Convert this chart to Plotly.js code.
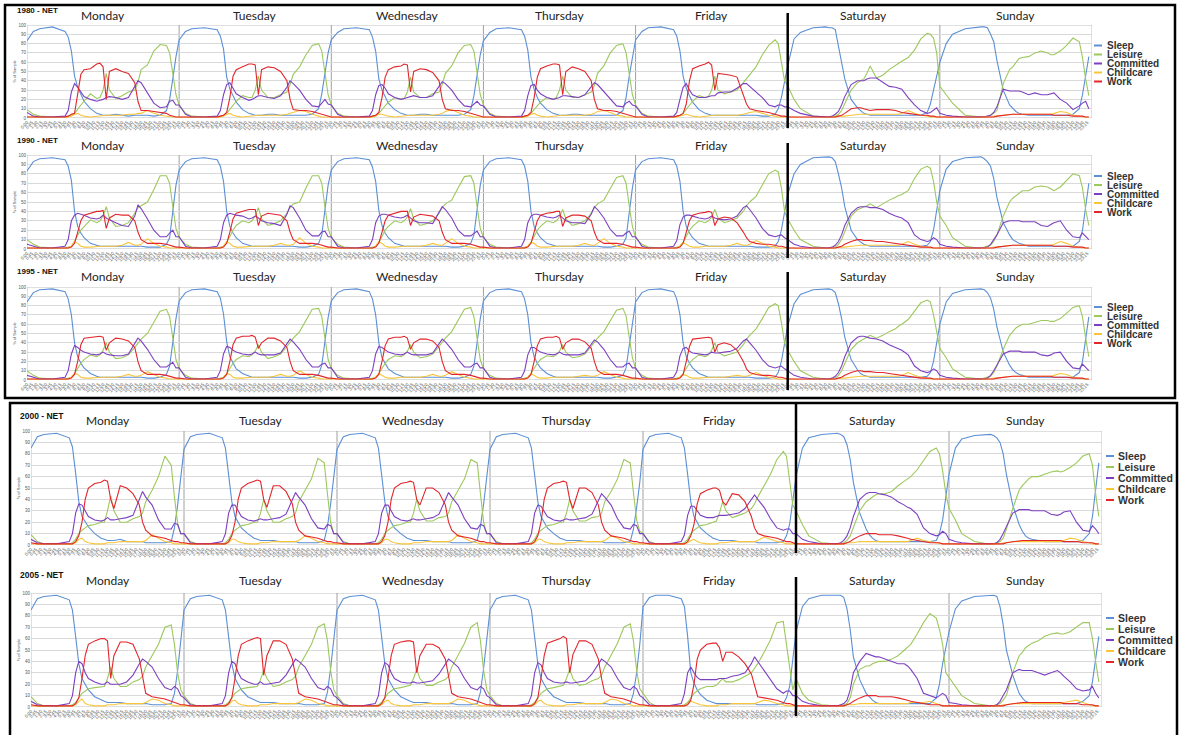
<!DOCTYPE html>
<html><head><meta charset="utf-8">
<script src="https://cdn.plot.ly/plotly-3.0.1.min.js"></script>
<style>html,body{margin:0;padding:0;background:#fff;overflow:hidden}#chart{width:1181px;height:735px}</style>
</head><body><div id="chart"></div>
<script>
const W = 1181, H = 735;
const TIMES = [0,1,2,4,6, 6.5,7,7.5,8,8.5, 9,10,11,11.5,12, 12.5,13,14,15,16, 17,17.5,18,19,20, 21,22,22.5,23,23.5];
const DAYS = ["Monday","Tuesday","Wednesday","Thursday","Friday","Saturday","Sunday"];
const DAY_TICKS = ["0:00","0:45","1:30","2:15","3:00","3:45","4:30","5:15","6:00","6:45","7:30","8:15","9:00","9:45","10:30","11:15","12:00","12:45","13:30","14:15","15:00","15:45","16:30","17:15","18:00","18:45","19:30","20:15","21:00","21:45","22:30","23:15"];
const SERIES = ["Sleep","Leisure","Committed","Childcare","Work"];
const COLORS = ["#5b8fd6","#9dc85c","#7d3fc0","#f8c53a","#e2262b"];
const PANEL_TITLES = ["1980 - NET","1990 - NET","1995 - NET","2000 - NET","2005 - NET"];

// ---------- 1980 ----------
const sleep1980 = [
[83,93,96,98,93, 87,72,45,33,25, 18,10,5,4,3, 3,3,4,3,2, 3,3,3,3,2, 3,8,20,42,66],
[84,93,96,97,95, 88,74,44,31,23, 17,9,5,4,3, 3,3,4,4,3, 3,3,3,3,3, 4,10,26,50,70],
[84,92,96,97,95, 87,72,42,30,22, 16,9,5,4,3, 3,3,4,4,3, 3,3,3,3,3, 4,9,24,48,68],
[83,92,96,97,95, 88,73,44,31,22, 16,9,5,4,3, 3,3,4,4,3, 3,3,3,3,3, 3,8,22,45,66],
[84,93,97,98,95, 88,72,45,32,24, 17,9,5,4,3, 3,3,3,3,3, 3,3,3,3,2, 2,4,10,22,40],
[56,85,92,97,98, 97,97,95,78,60, 42,20,11,8,5, 4,3,3,3,3, 3,3,3,3,3, 3,6,15,30,45],
[60,80,90,96,98, 98,98,97,90,82, 62,30,14,10,7, 5,4,3,3,3, 3,3,3,3,3, 4,10,25,48,66]];
const leisure1980 = [
[9,4,2,1,1, 2,3,5,10,14, 18,26,21,22,30, 48,30,21,24,28, 30,38,52,57,72, 79,78,70,48,25],
[14,5,2,1,1, 2,3,5,9,14, 18,24,22,22,30, 45,30,22,22,25, 28,36,47,55,68, 78,80,72,50,25],
[14,5,2,1,1, 2,3,5,9,13, 17,22,20,21,28, 44,28,22,22,26, 28,36,48,56,70, 78,79,72,50,25],
[14,5,2,1,1, 2,3,5,9,13, 17,22,20,22,30, 45,30,22,22,25, 28,35,48,56,70, 78,80,70,48,25],
[14,5,2,1,1, 2,3,5,9,14, 18,24,22,23,30, 45,30,26,28,30, 38,42,46,55,68, 78,84,80,60,40],
[35,20,10,2,1, 1,1,2,4,8, 15,30,38,40,42, 48,56,43,46,52, 57,59,61,65,73, 85,91,90,86,70],
[34,25,16,3,1, 1,1,2,3,5, 8,37,52,55,60, 64,65,66,70,72, 70,68,68,72,78, 86,82,65,42,24]];
const committed1980 = [
[6,2,1,1,2, 8,28,37,33,28, 23,20,18,19,20, 22,23,22,20,22, 35,40,38,27,16, 11,12,18,19,14],
[14,4,1,1,2, 8,25,36,38,32, 26,22,19,20,22, 24,24,22,21,24, 33,40,37,30,20, 13,12,16,20,15],
[14,4,1,1,2, 8,25,35,36,32, 26,22,20,21,22, 23,24,22,22,24, 35,39,37,30,20, 13,12,15,18,14],
[13,4,1,1,2, 8,24,35,36,30, 26,22,20,21,22, 24,24,23,22,25, 34,38,36,28,20, 13,12,16,18,14],
[13,4,1,1,2, 6,20,33,37,30, 25,22,22,23,24, 24,27,28,28,32, 37,37,34,27,22, 14,12,14,14,12],
[12,8,5,2,1, 1,2,4,7,14, 23,36,40,40,40, 42,43,43,38,34, 33,32,31,22,14, 8,5,6,9,11],
[5,3,2,1,1, 1,1,2,3,6, 12,31,29,29,29, 29,28,25,27,25, 25,26,27,20,16, 9,13,16,18,10]];
const childcare1980 = [
[1,1,0,0,0, 1,2,4,5,3, 2,1,2,2,3, 3,3,3,3,4, 4,5,5,8,5, 3,2,1,1,1],
[1,1,0,0,0, 1,2,4,5,3, 2,1,2,2,3, 3,3,3,3,3, 4,5,6,8,7, 4,2,1,1,1],
[1,1,0,0,0, 1,2,4,4,3, 2,1,2,2,3, 3,3,3,3,3, 4,5,7,9,6, 3,2,1,1,1],
[1,1,0,0,0, 1,2,4,5,3, 2,1,2,2,3, 3,3,3,3,3, 4,5,7,8,6, 3,2,1,1,1],
[1,1,0,0,0, 1,2,3,4,3, 2,1,2,2,3, 3,3,3,3,3, 4,5,6,7,5, 3,2,1,1,1],
[1,1,0,0,0, 0,1,1,2,2, 2,3,4,4,4, 4,4,4,4,4, 4,4,5,8,5, 3,2,1,1,1],
[1,1,0,0,0, 0,1,1,1,2, 2,3,4,4,4, 4,4,4,4,4, 4,4,5,7,6, 3,2,1,1,1]];
const work1980 = [
[1,1,1,1,1, 2,4,5,25,47, 52,53,58,59,55, 20,50,53,50,48, 38,18,8,8,7, 6,5,3,2,1],
[1,1,1,1,1, 2,3,6,22,45, 52,55,58,58,57, 25,52,55,54,50, 40,20,9,8,8, 7,5,4,3,2],
[1,1,1,1,1, 2,3,6,22,44, 52,55,56,58,57, 28,50,53,52,49, 40,20,10,8,8, 7,5,4,3,2],
[1,1,1,1,1, 2,3,6,22,44, 53,56,58,58,57, 25,50,55,53,50, 40,20,10,8,8, 7,5,4,3,2],
[1,1,1,1,1, 2,3,5,15,40, 53,56,58,60,57, 30,48,47,46,44, 25,15,10,8,7, 6,4,3,2,2],
[1,1,1,1,1, 1,1,1,2,3, 5,10,11,11,10, 9,8,9,9,9, 8,7,6,5,4, 3,3,2,2,1],
[1,1,1,1,1, 1,1,1,1,1, 2,3,4,4,4, 4,4,4,4,4, 4,4,3,3,3, 2,2,2,1,1]];

// ---------- 1990 ----------
const sleep1990 = [
[83,93,96,97,95, 88,73,40,24,17, 12,6,4,3,3, 3,3,3,3,3, 3,3,3,2,2, 2,5,12,40,68],
[84,93,96,97,95, 88,72,40,24,17, 12,6,4,3,3, 3,3,3,3,3, 3,3,3,2,2, 3,6,15,42,68],
[84,93,96,97,95, 87,72,41,25,17, 12,6,4,3,3, 3,3,3,3,3, 3,3,3,2,2, 3,6,15,42,68],
[84,93,96,97,95, 88,72,40,24,17, 12,6,4,3,3, 3,3,3,3,3, 3,3,3,2,2, 3,5,12,38,65],
[84,93,96,97,95, 88,72,40,24,17, 12,6,4,3,3, 3,3,3,3,3, 3,3,3,2,2, 2,3,8,20,40],
[58,80,90,97,98, 98,97,93,80,65, 45,20,10,7,5, 4,3,3,3,3, 3,3,3,3,3, 3,4,8,20,40],
[62,85,93,97,98, 98,96,93,88,75, 55,28,15,10,8, 6,5,3,3,3, 3,3,3,3,3, 3,8,20,45,70]];
const leisure1990 = [
[10,5,2,1,1, 2,3,8,15,20, 24,31,28,30,35, 45,33,24,25,28, 38,44,46,50,63, 78,78,70,45,22],
[12,5,2,1,1, 2,3,7,14,20, 25,30,28,30,35, 44,32,25,27,30, 38,44,48,50,65, 78,78,70,45,22],
[12,5,2,1,1, 2,3,7,14,20, 24,30,28,30,34, 43,32,25,27,30, 38,44,48,52,65, 77,78,70,45,22],
[12,5,2,1,1, 2,3,7,14,20, 24,30,28,30,34, 42,32,25,27,30, 38,44,48,52,64, 76,78,70,46,24],
[12,5,2,1,1, 2,3,7,14,20, 24,30,28,30,34, 42,33,28,30,33, 40,46,50,56,68, 80,84,82,65,40],
[32,20,10,3,1, 1,1,2,5,10, 18,35,42,43,45, 46,48,44,48,52, 55,57,58,62,75, 85,88,86,72,50],
[35,25,12,3,1, 1,2,3,4,8, 15,35,50,54,57, 60,62,62,66,67, 66,64,62,66,73, 80,78,65,42,25]];
const committed1990 = [
[5,3,1,1,3, 10,30,36,38,37, 36,33,32,33,36, 33,31,28,25,24, 35,47,43,32,20, 13,13,17,20,13],
[13,3,1,1,3, 10,28,36,38,37, 36,35,32,33,35, 33,30,28,27,25, 37,46,44,33,20, 14,14,18,19,13],
[13,3,1,1,3, 10,28,35,37,37, 36,34,33,34,36, 33,30,28,28,27, 38,45,42,33,20, 14,14,17,19,13],
[13,3,1,1,3, 10,28,35,37,37, 36,34,33,34,36, 33,30,28,28,27, 37,45,42,33,21, 14,14,17,19,13],
[13,3,1,1,3, 9,26,34,36,36, 35,33,32,33,35, 33,32,31,32,35, 44,46,42,33,22, 15,13,14,15,12],
[10,5,3,1,1, 1,2,4,8,15, 25,38,44,45,45, 45,44,44,42,38, 35,34,33,28,15, 10,8,9,12,10],
[5,3,2,1,1, 1,1,2,5,10, 15,28,30,30,30, 30,29,29,29,25, 24,26,28,30,20, 13,12,17,14,10]];
const childcare1990 = [
[1,1,0,0,0, 1,3,8,6,3, 2,2,3,3,3, 3,3,3,4,7, 4,4,5,11,6, 3,2,1,1,1],
[1,1,0,0,0, 1,3,8,6,3, 2,2,3,3,3, 3,3,3,4,6, 4,4,5,12,6, 3,2,1,1,1],
[1,1,0,0,0, 1,3,8,6,3, 2,2,3,3,3, 3,3,3,4,6, 4,4,6,11,6, 3,2,1,1,1],
[1,1,0,0,0, 1,3,7,6,3, 2,2,3,3,3, 3,3,3,4,6, 4,4,6,11,6, 3,2,1,1,1],
[1,1,0,0,0, 1,3,7,5,3, 2,2,3,3,3, 3,3,3,4,6, 4,4,5,9,6, 3,2,1,1,1],
[1,1,0,0,0, 0,1,1,2,2, 2,3,4,4,4, 4,4,4,4,4, 4,4,5,8,5, 3,2,1,1,1],
[1,1,0,0,0, 0,1,1,1,2, 2,3,4,4,4, 4,4,4,4,4, 4,4,5,8,6, 3,2,1,1,1]];
const work1990 = [
[1,1,1,1,1, 1,2,6,18,30, 36,38,40,40,41, 22,33,37,36,36, 30,18,10,6,6, 6,5,4,3,2],
[2,1,1,1,1, 1,2,6,18,32, 38,40,42,42,42, 25,35,38,37,36, 30,18,10,6,6, 6,5,4,3,2],
[2,1,1,1,1, 1,2,6,18,30, 36,38,40,40,40, 25,34,37,36,35, 30,18,10,6,6, 6,5,4,3,2],
[2,1,1,1,1, 1,2,6,18,30, 36,38,39,40,40, 24,33,36,36,35, 30,18,10,6,6, 6,5,4,3,2],
[2,1,1,1,1, 1,2,6,18,30, 36,38,39,40,39, 25,32,34,33,28, 18,12,8,6,5, 5,4,3,3,2],
[1,1,1,1,1, 1,1,1,2,3, 5,8,10,10,9, 9,9,8,8,7, 6,5,5,4,3, 2,2,2,1,1],
[1,1,1,1,1, 1,1,1,1,1, 2,3,4,4,4, 4,4,4,4,4, 4,4,3,3,3, 2,2,2,1,1]];

// ---------- 1995 ----------
const sleep1995 = [
[84,94,97,98,95, 87,70,40,25,18, 13,7,4,3,3, 3,3,3,3,3, 3,3,3,2,2, 3,6,15,40,66],
[85,94,97,98,95, 88,71,41,25,18, 12,7,4,3,3, 3,3,3,3,3, 3,3,3,2,2, 3,6,16,42,67],
[85,94,97,98,95, 87,70,40,24,18, 12,7,4,3,3, 3,3,3,3,3, 3,3,3,2,2, 3,6,15,41,66],
[85,94,97,98,95, 87,70,40,25,18, 13,7,4,3,3, 3,3,3,3,3, 3,3,3,2,2, 3,5,13,38,64],
[84,94,97,98,95, 87,70,40,25,18, 13,7,4,3,3, 3,3,3,3,3, 3,3,3,2,2, 2,3,8,20,40],
[58,82,92,97,98, 98,97,94,82,66, 46,22,11,7,5, 4,3,3,3,3, 3,3,3,3,3, 3,4,8,20,40],
[60,84,93,97,98, 98,97,94,88,76, 57,30,16,11,8, 6,5,3,3,3, 3,3,3,3,3, 3,8,20,44,68]];
const leisure1995 = [
[10,5,2,1,1, 2,3,7,13,18, 22,27,25,27,32, 40,30,23,24,27, 35,40,44,50,62, 74,76,68,45,22],
[12,5,2,1,1, 2,3,7,13,18, 22,26,25,27,31, 38,30,23,25,28, 36,41,45,52,64, 76,77,68,45,22],
[12,5,2,1,1, 2,3,7,13,18, 22,26,25,27,31, 38,30,24,25,28, 36,41,45,52,64, 76,78,68,45,22],
[12,5,2,1,1, 2,3,7,13,18, 22,26,25,27,31, 38,30,24,25,28, 36,41,45,52,63, 75,77,69,46,24],
[12,5,2,1,1, 2,3,7,13,18, 22,27,25,27,32, 40,30,26,28,30, 38,44,48,55,66, 78,82,80,62,40],
[32,20,10,3,1, 1,1,2,5,10, 18,33,40,42,44, 46,48,45,48,52, 55,58,60,65,74, 83,86,84,70,50],
[34,24,12,3,1, 1,2,3,4,8, 15,33,48,52,56, 58,60,60,62,64, 64,63,63,66,72, 78,80,68,45,25]];
const committed1995 = [
[5,3,1,1,3, 10,28,37,35,32, 30,28,27,28,30, 28,27,26,26,28, 40,45,42,33,22, 14,14,17,19,13],
[13,3,1,1,3, 10,28,36,35,32, 30,28,27,28,30, 28,27,27,27,29, 40,44,41,33,22, 14,14,17,18,13],
[13,3,1,1,3, 10,28,36,35,32, 30,28,27,28,30, 28,27,27,27,29, 40,44,41,33,22, 14,14,17,18,13],
[13,3,1,1,3, 10,27,35,35,32, 30,28,27,28,30, 28,27,27,27,29, 39,43,41,33,22, 14,14,17,18,13],
[13,3,1,1,3, 9,26,34,35,31, 29,28,27,28,30, 29,29,30,31,34, 42,44,40,32,22, 15,13,14,15,12],
[10,5,3,1,1, 1,2,4,8,15, 25,40,46,47,47, 46,45,44,42,38, 35,33,32,27,15, 10,8,9,12,10],
[5,3,2,1,1, 1,1,2,5,10, 16,28,31,31,31, 31,30,30,30,27, 26,27,29,30,20, 13,12,17,14,10]];
const childcare1995 = [
[1,1,0,0,0, 1,3,7,6,3, 2,2,3,3,3, 3,3,3,4,6, 4,4,5,9,6, 3,2,1,1,1],
[1,1,0,0,0, 1,3,7,6,3, 2,2,3,3,3, 3,3,3,4,6, 4,4,5,10,6, 3,2,1,1,1],
[1,1,0,0,0, 1,3,7,5,3, 2,2,3,3,3, 3,3,3,4,6, 4,4,5,9,6, 3,2,1,1,1],
[1,1,0,0,0, 1,3,7,5,3, 2,2,3,3,3, 3,3,3,4,5, 4,4,5,9,6, 3,2,1,1,1],
[1,1,0,0,0, 1,3,6,5,3, 2,2,3,3,3, 3,3,3,4,5, 4,4,5,8,5, 3,2,1,1,1],
[1,1,0,0,0, 0,1,1,2,2, 2,3,4,4,4, 4,4,4,4,4, 4,4,5,8,5, 3,2,1,1,1],
[1,1,0,0,0, 0,1,1,1,2, 2,3,4,4,4, 4,4,4,4,4, 4,4,5,7,6, 3,2,1,1,1]];
const work1995 = [
[1,1,1,1,1, 1,2,6,20,38, 45,46,47,47,46, 32,40,45,44,42, 35,20,10,6,6, 6,5,4,3,2],
[2,1,1,1,1, 1,2,6,20,38, 45,47,47,48,46, 34,40,45,45,42, 35,20,10,6,6, 6,5,4,3,2],
[2,1,1,1,1, 1,2,6,20,37, 44,46,46,47,45, 33,40,44,44,42, 35,20,10,6,6, 6,5,4,3,2],
[2,1,1,1,1, 1,2,6,20,37, 44,46,46,47,45, 33,40,44,44,41, 34,20,10,6,6, 6,5,4,3,2],
[2,1,1,1,1, 1,2,6,20,36, 44,45,46,46,45, 30,38,40,38,32, 20,12,8,6,5, 5,4,3,3,2],
[1,1,1,1,1, 1,1,1,2,3, 5,8,10,10,9, 9,9,8,8,7, 6,5,5,4,3, 2,2,2,1,1],
[1,1,1,1,1, 1,1,1,1,1, 2,3,4,4,4, 4,4,4,4,4, 4,4,3,3,3, 2,2,2,1,1]];

// ---------- 2000 ----------
const sleep2000 = [
[85,95,97,98,94, 86,63,38,25,20, 16,10,6,5,4, 4,4,5,3,3, 3,3,2,2,2, 2,3,15,35,58],
[84,95,97,98,94, 85,62,38,25,20, 15,10,6,5,4, 4,4,4,3,3, 3,3,2,2,2, 2,4,16,36,58],
[84,95,97,98,94, 85,62,38,25,20, 15,10,6,5,4, 4,4,4,3,3, 3,3,2,2,2, 2,4,16,36,58],
[84,95,97,98,94, 85,62,38,25,20, 15,10,6,5,4, 4,4,4,3,3, 3,3,2,2,2, 2,3,14,33,55],
[84,95,97,98,94, 85,62,38,25,20, 15,10,6,5,4, 4,4,4,3,3, 3,3,2,2,2, 2,3,8,18,38],
[60,85,94,97,98, 98,97,95,88,75, 55,28,14,9,6, 4,3,3,3,3, 3,3,3,3,3, 3,4,10,22,42],
[62,85,93,96,97, 97,96,94,90,80, 62,35,18,12,8, 6,5,4,3,3, 3,3,3,3,3, 4,10,25,50,72]];
const leisure2000 = [
[9,3,1,1,1, 2,5,10,13,15, 17,18,20,20,30, 43,30,20,20,23, 25,28,38,48,60, 78,70,42,19,10],
[10,3,1,1,1, 2,5,10,13,15, 17,18,20,20,28, 40,30,20,20,23, 25,28,38,48,58, 76,72,45,20,10],
[10,3,1,1,1, 2,5,10,13,15, 17,18,20,20,28, 40,30,21,21,24, 25,28,38,48,58, 75,72,45,20,10],
[10,3,1,1,1, 2,5,10,13,15, 17,18,20,20,28, 40,30,21,21,24, 25,28,38,47,58, 75,72,46,22,12],
[10,3,1,1,1, 2,5,10,13,15, 17,18,20,21,28, 38,30,24,26,28, 32,36,42,52,62, 75,82,78,55,35],
[30,18,8,2,1, 1,1,2,4,8, 16,30,38,40,42, 44,45,45,47,52, 56,58,60,66,74, 82,85,80,65,45],
[32,22,10,3,1, 1,1,2,3,6, 14,32,48,52,55, 58,60,60,62,64, 65,64,65,68,72, 78,80,70,45,25]];
const committed2000 = [
[5,2,1,1,3, 10,28,36,35,30, 25,22,21,22,24, 22,22,23,24,26, 40,47,42,35,22, 14,14,19,18,10],
[10,2,1,1,3, 10,28,35,35,30, 25,22,21,22,23, 22,22,23,24,27, 40,46,42,35,23, 15,14,18,17,10],
[10,2,1,1,3, 10,28,35,35,30, 25,22,21,22,23, 22,22,23,24,27, 40,46,42,35,23, 15,14,18,17,10],
[10,2,1,1,3, 10,28,35,34,30, 25,22,21,22,23, 22,22,23,24,27, 39,45,42,35,23, 15,14,18,17,10],
[10,2,1,1,3, 9,26,34,34,30, 26,24,24,25,26, 26,26,27,28,32, 40,44,40,33,23, 15,13,14,14,10],
[10,5,3,1,1, 1,2,4,8,15, 25,40,45,46,46, 46,45,44,42,38, 35,33,32,27,15, 10,8,9,12,10],
[5,3,2,1,1, 1,1,2,5,10, 16,28,31,31,31, 31,30,30,30,27, 26,27,29,30,20, 13,12,17,14,10]];
const childcare2000 = [
[1,1,0,0,0, 1,2,5,6,3, 2,1,1,1,2, 2,2,3,3,3, 3,3,4,9,6, 3,2,1,1,1],
[1,1,0,0,0, 1,2,5,5,3, 2,1,1,1,2, 2,2,3,3,3, 3,3,4,8,6, 3,2,1,1,1],
[1,1,0,0,0, 1,2,5,5,3, 2,1,1,1,2, 2,2,3,3,3, 3,3,4,9,6, 3,2,1,1,1],
[1,1,0,0,0, 1,2,5,5,3, 2,1,1,1,2, 2,2,3,3,3, 3,3,4,8,6, 3,2,1,1,1],
[1,1,0,0,0, 1,2,4,5,3, 2,1,1,1,2, 2,2,3,3,3, 3,3,4,7,5, 3,2,1,1,1],
[1,1,0,0,0, 0,1,1,2,2, 2,3,3,3,3, 3,3,3,3,3, 3,3,4,6,4, 3,2,1,1,1],
[1,1,0,0,0, 0,1,1,1,2, 2,3,3,3,3, 3,3,3,3,3, 3,3,4,6,5, 3,2,1,1,1]];
const work2000 = [
[2,1,1,1,1, 1,3,8,20,40, 50,54,55,57,56, 40,32,52,50,45, 35,20,13,8,7, 6,4,3,3,2],
[2,1,1,1,1, 1,3,8,20,40, 50,54,56,57,56, 40,33,52,52,47, 36,20,13,8,7, 6,4,3,3,2],
[2,1,1,1,1, 1,3,8,20,40, 50,54,55,56,55, 40,35,50,50,46, 35,20,13,8,7, 6,4,3,3,2],
[2,1,1,1,1, 1,3,8,20,40, 50,54,55,56,55, 40,32,50,50,46, 35,20,13,8,7, 6,4,3,3,2],
[2,1,1,1,1, 1,3,8,18,36, 45,48,50,50,48, 38,35,45,44,38, 25,15,10,8,7, 6,4,3,3,2],
[1,1,1,1,1, 1,1,1,2,3, 5,8,10,10,10, 10,9,9,9,8, 7,6,5,4,3, 2,2,2,1,1],
[1,1,1,1,1, 1,1,1,1,1, 2,3,4,4,4, 4,4,4,4,4, 4,4,3,3,3, 2,2,2,1,1]];

// ---------- 2005 ----------
const sleep2005 = [
[85,95,97,98,94, 85,62,38,25,20, 15,9,6,5,4, 4,4,4,3,3, 3,3,3,2,2, 2,3,12,32,58],
[85,95,97,98,94, 85,62,38,25,20, 15,9,6,5,4, 4,4,4,3,3, 3,3,3,2,2, 2,3,13,34,58],
[85,95,97,98,94, 85,62,38,25,20, 15,9,6,5,4, 4,4,4,3,3, 3,3,3,2,2, 2,3,13,34,58],
[85,95,97,98,94, 85,62,38,25,20, 15,9,6,5,4, 4,4,4,3,3, 3,3,3,2,2, 2,3,12,30,55],
[88,96,98,98,95, 88,62,30,21,15, 11,6,4,3,3, 3,3,3,3,3, 3,3,2,2,2, 2,3,8,18,40],
[66,88,95,98,98, 98,98,96,86,68, 44,24,12,9,6, 4,3,3,3,3, 3,3,3,3,3, 3,8,20,38,52],
[66,86,93,97,98, 98,98,97,88,72, 50,28,12,8,5, 4,3,3,3,3, 3,3,3,3,3, 5,10,22,40,62]];
const leisure2005 = [
[9,3,1,1,1, 2,4,8,12,14, 16,17,18,18,25, 35,25,18,18,22, 24,27,35,45,55, 70,72,55,30,15],
[10,3,1,1,1, 2,4,8,12,14, 16,17,18,18,24, 32,25,18,19,22, 24,27,35,45,55, 70,73,58,32,15],
[10,3,1,1,1, 2,4,8,12,14, 16,17,18,19,25, 33,25,19,19,22, 24,27,35,45,56, 70,74,58,32,15],
[10,3,1,1,1, 2,4,8,12,14, 16,17,18,19,25, 33,25,19,20,23, 25,28,35,45,56, 70,73,58,32,16],
[12,4,1,1,1, 2,4,8,12,14, 16,18,18,19,22, 25,22,22,24,27, 30,34,38,48,59, 74,75,55,35,15],
[25,12,6,2,1, 1,1,2,3,8, 20,33,36,36,38, 39,40,40,42,45, 50,52,55,64,74, 82,78,68,55,30],
[26,18,10,3,1, 1,1,2,3,6, 10,30,45,48,52, 54,56,58,62,64, 65,64,64,66,70, 74,74,60,40,22]];
const committed2005 = [
[5,2,1,1,3, 10,30,40,38,30, 25,22,20,20,22, 20,20,20,22,28, 38,42,40,35,25, 17,15,18,16,10],
[8,2,1,1,3, 10,30,40,38,30, 25,22,20,20,22, 20,20,21,22,28, 38,42,40,35,25, 17,15,18,16,10],
[8,2,1,1,3, 10,30,39,37,30, 25,22,21,21,22, 21,21,22,23,29, 38,42,40,35,25, 17,15,18,16,10],
[8,2,1,1,3, 10,30,39,37,30, 25,22,21,21,22, 21,21,22,23,29, 38,42,40,35,25, 17,15,18,16,10],
[8,2,1,1,3, 12,30,35,30,26, 24,24,24,24,25, 25,25,27,28,30, 38,44,40,33,25, 16,12,14,14,10],
[10,5,3,1,1, 1,2,3,6,15, 30,40,47,46,45, 44,44,42,40,38, 38,36,33,25,12, 10,8,10,12,10],
[4,3,2,1,1, 1,1,2,5,10, 15,30,33,32,32, 32,32,30,28,30, 32,30,27,22,16, 14,15,18,12,8]];
const childcare2005 = [
[1,1,0,0,0, 1,2,5,7,3, 2,1,1,1,2, 2,2,3,3,3, 3,3,4,7,6, 3,2,1,1,1],
[1,1,0,0,0, 1,2,5,6,3, 2,1,1,1,2, 2,2,3,3,3, 3,3,4,7,6, 3,2,1,1,1],
[1,1,0,0,0, 1,2,5,6,3, 2,1,1,1,2, 2,2,3,3,3, 3,3,4,7,6, 3,2,1,1,1],
[1,1,0,0,0, 1,2,5,6,3, 2,1,1,1,2, 2,2,3,3,3, 3,3,4,7,6, 3,2,1,1,1],
[1,1,0,0,0, 1,3,5,4,3, 2,1,1,1,2, 2,2,3,3,3, 3,3,4,6,5, 3,2,1,1,1],
[1,1,0,0,0, 0,1,1,2,2, 2,3,3,3,3, 3,3,3,3,3, 3,3,4,4,4, 5,3,2,1,1],
[1,1,0,0,0, 0,1,1,1,2, 2,3,3,3,3, 3,3,3,3,3, 3,3,4,5,6, 4,2,1,1,1]];
const work2005 = [
[2,1,1,1,1, 1,3,8,25,45, 55,58,60,60,58, 25,45,57,57,55, 42,25,12,9,8, 7,5,4,3,2],
[2,1,1,1,1, 1,3,8,25,45, 55,58,60,61,60, 28,45,58,58,55, 42,25,12,9,8, 7,5,4,3,2],
[2,1,1,1,1, 1,3,8,25,45, 55,57,58,58,57, 30,45,55,55,52, 42,25,12,9,8, 7,5,4,3,2],
[2,1,1,1,1, 1,3,8,25,45, 56,58,60,62,60, 30,46,58,58,55, 42,25,12,9,8, 7,5,4,3,2],
[2,1,1,1,1, 1,2,6,20,42, 50,55,56,56,52, 40,48,48,44,38, 29,18,9,8,7, 6,4,3,3,2],
[1,1,1,1,1, 1,1,1,2,3, 5,8,10,10,10, 10,9,9,9,8, 7,6,5,4,3, 2,2,2,1,1],
[1,1,1,1,1, 1,1,1,1,1, 2,3,4,4,4, 4,4,4,4,4, 4,4,3,3,3, 2,2,2,1,1]];

const PANEL_DATA = [
  {sleep:sleep1980, leisure:leisure1980, committed:committed1980, childcare:childcare1980, work:work1980},
  {sleep:sleep1990, leisure:leisure1990, committed:committed1990, childcare:childcare1990, work:work1990},
  {sleep:sleep1995, leisure:leisure1995, committed:committed1995, childcare:childcare1995, work:work1995},
  {sleep:sleep2000, leisure:leisure2000, committed:committed2000, childcare:childcare2000, work:work2000},
  {sleep:sleep2005, leisure:leisure2005, committed:committed2005, childcare:childcare2005, work:work2005}
];
const KEYS = ["sleep","leisure","committed","childcare","work"];

// ---------- layout geometry (pixels) ----------
const PANELS = [
  {x0:27, x1:1092, top:25,  bot:118, tx:15, ty:10.5, tsize:8,   dayY:15,  thick:[13,128],  lx:1094, ltx:1105, lys:[45.5,54.5,63.5,72.5,81.5], lsize:10},
  {x0:27, x1:1092, top:155, bot:249, tx:15, ty:141,  tsize:8,   dayY:146, thick:[143,258], lx:1094, ltx:1105, lys:[176,185,194,203,212], lsize:10},
  {x0:27, x1:1092, top:287, bot:380, tx:15, ty:272,  tsize:8,   dayY:277, thick:[272,390], lx:1094, ltx:1105, lys:[307,316,325,334,343], lsize:10},
  {x0:31, x1:1102, top:431, bot:545, tx:18, ty:415.5,tsize:8.5, dayY:420, thick:[404,553], lx:1106, ltx:1116, lys:[456,467,478,489,500], lsize:10.5},
  {x0:31, x1:1102, top:593, bot:707, tx:18, ty:575,  tsize:8.5, dayY:580, thick:[577,716], lx:1106, ltx:1116, lys:[618,629,640,651,662], lsize:10.5}
];

const px = v => v / W;
const py = v => 1 - v / H;

// sanity check
PANEL_DATA.forEach((pd, i) => KEYS.forEach(k => pd[k].forEach((arr, d) => {
  if (arr.length !== TIMES.length) throw new Error("bad length " + PANEL_TITLES[i] + " " + k + " day " + d + ": " + arr.length);
})));

const traces = [];
const layout = {
  width: W, height: H, margin: {l:0, r:0, t:0, b:0},
  paper_bgcolor: '#ffffff', plot_bgcolor: '#ffffff', showlegend: false,
  font: {family: 'Liberation Sans, Arial, sans-serif', color: '#333'},
  shapes: [], annotations: []
};

const tickvals = [], ticktext = [];
for (let d = 0; d < 7; d++) DAY_TICKS.forEach((t, k) => { tickvals.push(d * 24 + k * 0.75); ticktext.push(t); });

PANELS.forEach((P, i) => {
  const n = i === 0 ? '' : String(i + 1);
  const xr = 'x' + n, yr = 'y' + n;
  layout['xaxis' + n] = {
    domain: [px(P.x0), px(P.x1)], range: [0, 168], anchor: yr,
    showgrid: false, zeroline: false, showline: false, ticks: '',
    tickmode: 'array', tickvals: tickvals, ticktext: ticktext, tickangle: -45,
    tickfont: {size: 4.5, color: '#555'}, fixedrange: true, automargin: false
  };
  layout['yaxis' + n] = {
    domain: [py(P.bot), py(P.top)], range: [0, 100], anchor: xr,
    tickmode: 'linear', tick0: 0, dtick: 10, showgrid: true, gridcolor: '#d9d9d9', gridwidth: 1,
    zeroline: false, showline: false, ticks: '',
    tickfont: {size: 4.5, color: '#555'}, fixedrange: true, automargin: false,
    title: {text: '% of Sample', font: {size: 4, color: '#555'}, standoff: 2}
  };
  const pd = PANEL_DATA[i];
  KEYS.forEach((k, s) => {
    const xs = [], ys = [];
    pd[k].forEach((arr, d) => arr.forEach((v, t) => { xs.push(d * 24 + TIMES[t]); ys.push(v); }));
    traces.push({x: xs, y: ys, xaxis: xr, yaxis: yr, type: 'scatter', mode: 'lines',
      line: {color: COLORS[s], width: 1.1}, hoverinfo: 'skip', name: SERIES[s]});
  });
  layout.shapes.push({type: 'rect', xref: xr, yref: yr, x0: 0, x1: 168, y0: 0, y1: 100,
    line: {color: '#bfbfbf', width: 1}, layer: 'below'});
  [24, 48, 72, 96, 144].forEach(xv => layout.shapes.push({type: 'line', xref: xr, yref: yr,
    x0: xv, x1: xv, y0: 0, y1: 100, line: {color: '#a0a0a0', width: 1}, layer: 'below'}));
  layout.shapes.push({type: 'line', xref: xr, yref: 'paper', x0: 120, x1: 120,
    y0: py(P.thick[1]), y1: py(P.thick[0]), line: {color: '#000', width: 2.5}});
  layout.annotations.push({xref: 'paper', yref: 'paper', x: px(P.tx), y: py(P.ty), xanchor: 'left', yanchor: 'middle',
    text: '<b>' + PANEL_TITLES[i] + '</b>', showarrow: false, font: {size: P.tsize, color: '#111'}});
  DAYS.forEach((dn, d) => layout.annotations.push({xref: xr, yref: 'paper', x: d * 24 + 12, y: py(P.dayY),
    xanchor: 'center', yanchor: 'middle', text: dn, showarrow: false,
    font: {family: 'Lato, Open Sans, sans-serif', size: 12, color: '#222'}}));
  SERIES.forEach((nm, s) => {
    layout.shapes.push({type: 'line', xref: 'paper', yref: 'paper', x0: px(P.lx), x1: px(P.lx + 8),
      y0: py(P.lys[s]), y1: py(P.lys[s]), line: {color: COLORS[s], width: 2}});
    layout.annotations.push({xref: 'paper', yref: 'paper', x: px(P.ltx), y: py(P.lys[s]), xanchor: 'left', yanchor: 'middle',
      text: '<b>' + nm + '</b>', showarrow: false, font: {size: P.lsize, color: '#333'}});
  });
});

layout.shapes.push({type: 'rect', xref: 'paper', yref: 'paper', x0: px(5), x1: px(1175), y0: py(398), y1: py(5),
  line: {color: '#000', width: 2.5}});
layout.shapes.push({type: 'rect', xref: 'paper', yref: 'paper', x0: px(10), x1: px(1177), y0: py(745), y1: py(403),
  line: {color: '#000', width: 2.5}});

Plotly.newPlot('chart', traces, layout, {staticPlot: true, displayModeBar: false});
</script>
</body></html>
